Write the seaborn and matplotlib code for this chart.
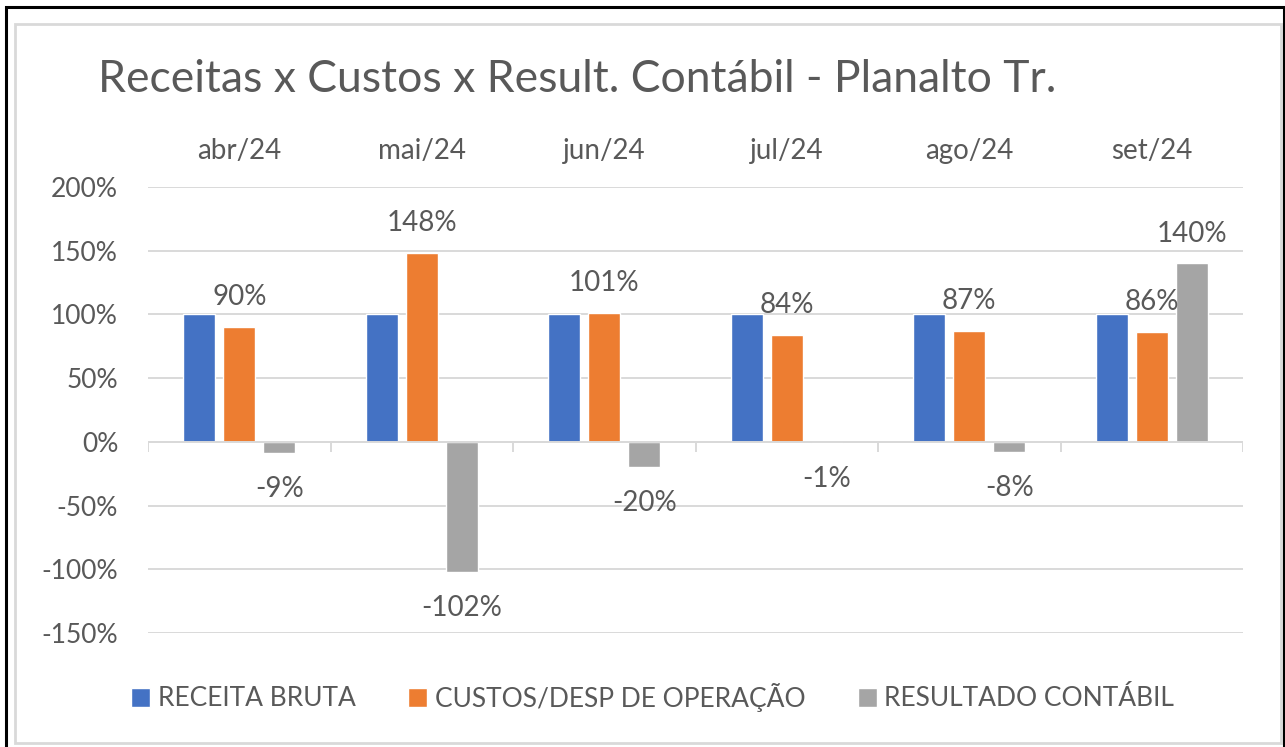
import numpy as np
import pandas as pd
import seaborn as sns
import matplotlib
matplotlib.use("Agg")
import matplotlib.pyplot as plt
from matplotlib.patches import Rectangle
from matplotlib.ticker import FuncFormatter

# data (percent)
months = ["abr/24", "mai/24", "jun/24", "jul/24", "ago/24", "set/24"]
receita = [100, 100, 100, 100, 100, 100]
custos = [90, 148, 101, 84, 87, 86]
resultado = [-9, -102, -20, -1, -8, 140]
series = ["RECEITA BRUTA", "CUSTOS/DESP DE OPERAÇÃO", "RESULTADO CONTÁBIL"]
colors = ["#4472C4", "#ED7D31", "#A5A5A5"]
title = "Receitas x Custos x Result. Contábil - Planalto Tr."

df = pd.DataFrame({
    "mes": months * 3,
    "serie": [series[0]] * 6 + [series[1]] * 6 + [series[2]] * 6,
    "valor": receita + custos + resultado,
})

sns.set_style("white")
plt.rcParams["font.family"] = ["Lato", "DejaVu Sans"]
txt = "#595959"
grid = "#D9D9D9"

W, H = 1285, 747
fig = plt.figure(figsize=(W / 100, H / 100), dpi=100)
ax = fig.add_axes([148 / W, 1 - 633 / H, (1243 - 148) / W, (633 - 187) / H])

sns.barplot(data=df, x="mes", y="valor", hue="serie", order=months,
            hue_order=series, palette=colors, width=0.66, gap=0.2,
            saturation=1, ax=ax)

ax.set_ylim(-150, 200)
ax.set_xlim(-0.5, len(months) - 0.5)
ax.set_yticks(np.arange(-150, 201, 50))
ax.yaxis.set_major_formatter(FuncFormatter(lambda v, p: f"{v:.0f}%"))
ax.grid(axis="y", color=grid, linewidth=1.4)
ax.set_axisbelow(True)
for s in ax.spines.values():
    s.set_visible(False)
ax.axhline(0, color=grid, linewidth=1.4, zorder=1)
# category boundary ticks on the zero line
bounds = np.arange(len(months) + 1) - 0.5
ax.vlines(bounds, -8, 0, color=grid, linewidth=1.4, zorder=1)

ax.xaxis.tick_top()
ax.tick_params(axis="x", length=0, pad=16.5, labelsize=20, labelcolor=txt)
ax.tick_params(axis="y", length=0, pad=21.5, labelsize=19, labelcolor=txt)
ax.set_xlabel("")
ax.set_ylabel("")

# data labels for costs and result
for cont, vals in [(ax.containers[1], custos), (ax.containers[2], resultado)]:
    for bar, v in zip(cont, vals):
        x = bar.get_x() + bar.get_width() / 2
        off = 21.5 if v >= 0 else -26
        ax.annotate(f"{v:.0f}%", (x, v), xytext=(0, off), textcoords="offset points",
                    ha="center", va="center", fontsize=20, color=txt)

handles, labels = ax.get_legend_handles_labels()
ax.get_legend().remove()
fig.legend(handles, labels, loc="center", bbox_to_anchor=(0.508, 1 - 697 / H),
           ncol=3, frameon=False, fontsize=19, labelcolor=txt,
           handlelength=0.7, handleheight=0.7, handletextpad=0.3,
           columnspacing=2.0)

fig.text(98 / W, 1 - 80 / H, title, fontsize=32, color=txt, ha="left", va="center")

# chart frame (inner light border) and outer black border
fig.patches.append(Rectangle((15 / W, 1 - 743 / H), (1281 - 15) / W, (743 - 24) / H,
                             transform=fig.transFigure, fill=False,
                             edgecolor="#D9D9D9", linewidth=2))
fig.patches.append(Rectangle((6 / W, -0.01), (1284 - 6) / W, 1 - 7 / H + 0.01,
                             transform=fig.transFigure, fill=False,
                             edgecolor="black", linewidth=2.2))

fig.savefig("out.png", dpi=100, facecolor="white")
